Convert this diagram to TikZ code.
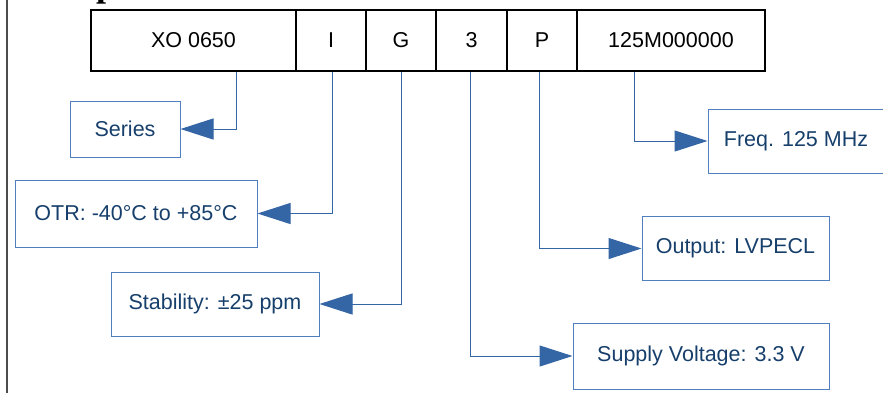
\documentclass[tikz,border=0pt]{standalone}
\usepackage{fontspec}
\setmainfont{Liberation Sans}
\newfontfamily\headfont{Liberation Serif}
\usetikzlibrary{arrows.meta,calc}
\definecolor{lblue}{HTML}{3465A4}
\definecolor{bblue}{HTML}{4F7FBD}
\definecolor{tnavy}{HTML}{173F6B}
\tikzset{
  topbox/.style={draw=black, line width=1.4pt, inner sep=0pt, minimum height=61pt,
    font=\fontsize{21.5}{24}\selectfont, text=black},
  lblbox/.style={draw=bblue, line width=1pt, inner sep=0pt,
    font=\fontsize{21.5}{24}\selectfont, text=tnavy},
  conn/.style={draw=lblue, line width=1pt, -{Triangle[length=33pt,width=21pt]}},
  frame/.style={draw=black!70, line width=2pt}
}
\begin{document}
\begin{tikzpicture}[x=1pt,y=-1pt]
\useasboundingbox (0,0) rectangle (883,392);
% frame line and cut heading
\draw[frame] (7,-2) -- (7,394);
\node[anchor=base west, inner sep=0pt, font=\headfont\bfseries\fontsize{36}{36}\selectfont] (heading) at (96,-3.8) {p};
% top code boxes
\node[topbox, minimum width=205pt] (xo)   at (193.5,40.5) {XO 0650};
\node[topbox, minimum width=70pt]  (ci)   at (331,40.5)   {I};
\node[topbox, minimum width=70pt]  (cg)   at (401,40.5)   {G};
\node[topbox, minimum width=71pt]  (c3)   at (471.5,40.5) {3};
\node[topbox, minimum width=70pt]  (cp)   at (542,40.5)   {P};
\node[topbox, minimum width=188pt] (freqc) at (671,40.5)  {125M000000};
% label boxes
\node[lblbox, minimum width=110pt, minimum height=56pt] (series) at (125,129) {Series};
\node[lblbox, minimum width=242pt, minimum height=67pt] (otr)    at (136,213.5) {OTR: -40°C to +85°C};
\node[lblbox, minimum width=208pt, minimum height=64pt] (stab)   at (215,304) {Stability: ±25 ppm};
\node[lblbox, minimum width=176pt, minimum height=64pt] (freq)   at (796,141) {Freq. 125 MHz};
\node[lblbox, minimum width=187pt, minimum height=64pt] (outp)   at (735.5,248.5) {Output: LVPECL};
\node[lblbox, minimum width=256pt, minimum height=66pt] (supply) at (701,356) {Supply Voltage: 3.3 V};
% connectors
\draw[conn] ([xshift=42.5pt]xo.south) |- (series.east);
\draw[conn] ([xshift=1pt]ci.south) |- (otr.east);
\draw[conn] (cg.south) |- (stab.east);
\draw[conn] ([xshift=-1.5pt]c3.south) |- (supply.west);
\draw[conn] ([xshift=-3pt]cp.south) |- (outp.west);
\draw[conn] ([xshift=-37pt]freqc.south) |- (freq.west);
\end{tikzpicture}
\end{document}
